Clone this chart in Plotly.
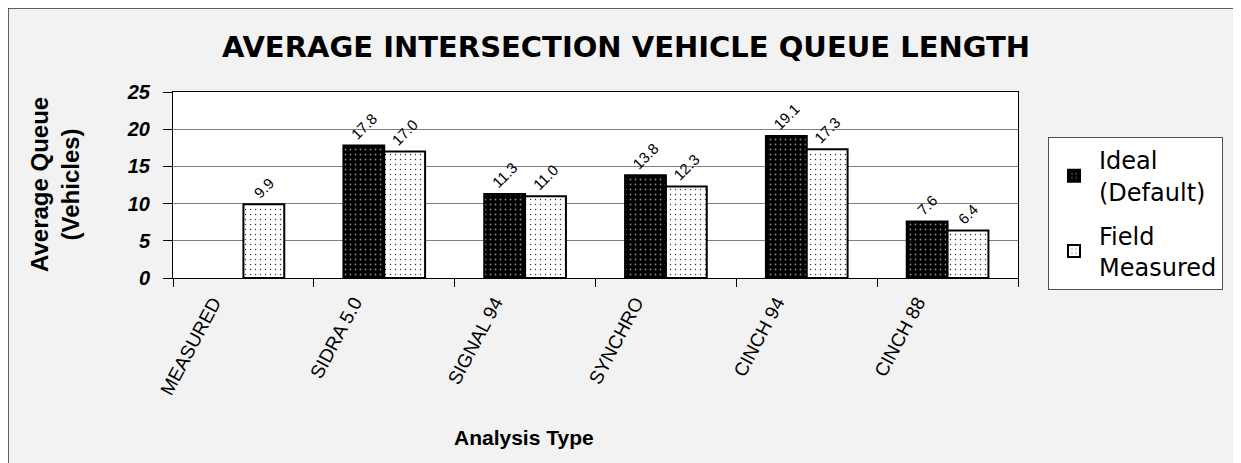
import plotly.graph_objects as go

categories = ["MEASURED", "SIDRA 5.0", "SIGNAL 94", "SYNCHRO", "CINCH 94", "CINCH 88"]
ideal_default = [None, 17.8, 11.3, 13.8, 19.1, 7.6]
field_measured = [9.9, 17.0, 11.0, 12.3, 17.3, 6.4]
series_names = ["Ideal<br>(Default)", "Field<br>Measured"]
y_ticks = [0, 5, 10, 15, 20, 25]

OFF = 8  # page body margin
W, H = 1241 - OFF, 463 - OFF
L, R, T, B = 165, 223, 84, 185
PW = W - L - R
PH = H - T - B

def px_x(p):
    return (p - OFF - L) / PW

def px_y(p):
    return (H - B - (p - OFF)) / PH

fig = go.Figure()
fig.add_trace(go.Bar(
    x=categories, y=ideal_default, name=series_names[0], legendgroup="ideal",
    marker=dict(color="black", line=dict(color="black", width=2),
                pattern=dict(shape=".", fgcolor="#8a8a8a", bgcolor="black",
                             size=5, solidity=0.1, fillmode="replace")),
    texttemplate="%{y:.1f}", textposition="outside", textangle=-45,
    textfont=dict(family="Liberation Sans, Arial", size=15, color="black"),
    cliponaxis=False,
))
fig.add_trace(go.Bar(
    x=categories, y=field_measured, name=series_names[1], legendgroup="field",
    marker=dict(color="white", line=dict(color="black", width=2),
                pattern=dict(shape=".", fgcolor="#303030", bgcolor="white",
                             size=5, solidity=0.06, fillmode="replace")),
    texttemplate="%{y:.1f}", textposition="outside", textangle=-45,
    textfont=dict(family="Liberation Sans, Arial", size=15, color="black"),
    cliponaxis=False,
))

fig.update_layout(
    width=W, height=H,
    margin=dict(l=L, r=R, t=T, b=B),
    paper_bgcolor="#f2f2f2",
    plot_bgcolor="white",
    barmode="group", bargap=0.42, bargroupgap=0,
    title=dict(text="<b>AVERAGE INTERSECTION VEHICLE QUEUE LENGTH</b>",
               x=(626 - OFF) / W, xanchor="center", y=1 - (47 - OFF) / H, yanchor="middle",
               font=dict(family="DejaVu Sans, Arial", size=29, color="black")),
    legend=dict(x=px_x(1048), y=px_y(137), xanchor="left", yanchor="top",
                bgcolor="white", bordercolor="#505050", borderwidth=1,
                font=dict(family="DejaVu Sans, Arial", size=24, color="black"),
                tracegroupgap=10, itemwidth=40),
    shapes=[
        dict(type="rect", xref="paper", yref="paper", layer="below",
             x0=px_x(8), x1=px_x(1250), y0=px_y(470), y1=px_y(8),
             fillcolor="rgba(0,0,0,0)", line=dict(color="#303030", width=1.5)),
    ],
    annotations=[
        dict(text="<b>Average Queue<br>(Vehicles)</b>", xref="paper", yref="paper",
             x=px_x(55), y=0.5, textangle=-90, showarrow=False,
             xanchor="center", yanchor="middle",
             font=dict(family="Liberation Sans, Arial", size=24, color="black")),
        dict(text="<b>Analysis Type</b>", xref="paper", yref="paper",
             x=px_x(524), y=px_y(437), showarrow=False,
             xanchor="center", yanchor="middle",
             font=dict(family="Liberation Sans, Arial", size=21, color="black")),
    ],
)

fig.update_yaxes(range=[0, 25], tickvals=y_ticks, ticktext=[str(v) for v in y_ticks],
                 showgrid=True, gridcolor="#808080", gridwidth=1,
                 showline=True, linecolor="black", linewidth=1, mirror=True,
                 ticks="outside", ticklen=9, tickcolor="black",
                 tickfont=dict(family="Liberation Sans, Arial", size=20, color="black",
                               weight="bold", style="italic"),
                 ticklabelstandoff=9, zeroline=False)
fig.update_xaxes(showline=True, linecolor="black", linewidth=1, mirror=True,
                 ticks="outside", ticklen=8, tickcolor="black", tickson="boundaries",
                 tickangle=-62,
                 tickfont=dict(family="Liberation Sans, Arial", size=19, color="black"),
                 ticklabelshift=-30, ticklabelstandoff=5)

fig.write_html("out.html")
